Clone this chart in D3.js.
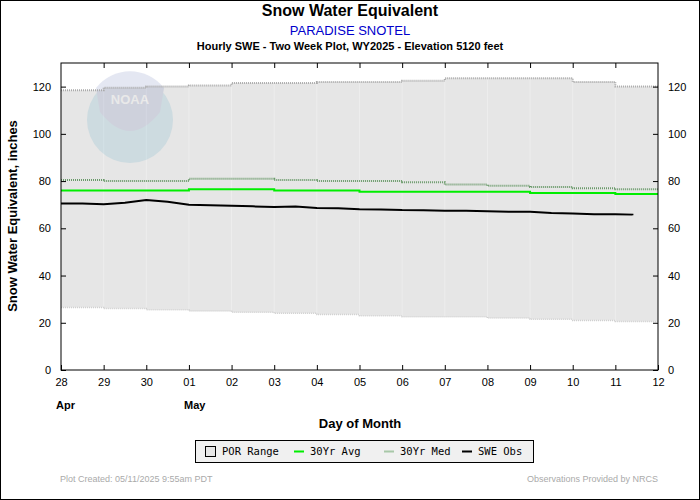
<!DOCTYPE html>
<html><head><meta charset="utf-8">
<script src="https://cdn.jsdelivr.net/npm/d3@7"></script>
<style>body{margin:0;background:#fff}svg{font-family:"Liberation Sans",Arial,sans-serif}</style>
</head><body>
<svg id="c" width="700" height="500"></svg>
<script>
const dayTicks = ["28","29","30","01","02","03","04","05","06","07","08","09","10","11","12"];
// daily step values, index = days since Apr 28
const porMax = [118.5,119.5,120,120.5,121.5,121.5,122,122,122.5,123.5,123.5,123.5,122,120];
const porMin = [26.5,26,25.5,25,24.5,24,23.5,23,22.5,22.5,22,21.5,21,20.5];
const med30 = [80.5,80,80,81,81,80.5,80,80,79.5,78.5,78,77.5,77,76.5];
const avg30 = [76,76,76,76.5,76.5,76,76,75.5,75.5,75.5,75.5,75,75,74.5];
// observations every 12 hours
const obs = [70.5,70.5,70.2,70.8,72.0,71.2,70.0,69.8,69.5,69.3,69.0,69.2,68.6,68.5,68.1,68.0,67.7,67.6,67.4,67.4,67.2,67.0,67.0,66.5,66.3,66.0,66.0,65.8,65.5];
const obsLastDay = 13.4;

const svg = d3.select("#c");
const m = {l:61, r:658, t:63, b:370};
const x = d3.scaleLinear().domain([0,14]).range([m.l,m.r]);
const y = d3.scaleLinear().domain([0,130]).range([m.b,m.t]);

svg.append("rect").attr("x",0.5).attr("y",0.5).attr("width",699).attr("height",499).attr("fill","#fff").attr("stroke","#000");

const stepPts = arr => arr.flatMap((v,i)=>[[i,v],[i+1,v]]);
const band = porMax.flatMap((v,i)=>[{d:i,hi:v,lo:porMin[i]},{d:i+1,hi:v,lo:porMin[i]}]);
svg.append("path").attr("d",d3.area().x(d=>x(d.d)).y0(d=>y(d.lo)).y1(d=>y(d.hi))(band)).attr("fill","#e6e6e6");

// grid
svg.append("g").selectAll("line").data(d3.range(1,14)).join("line")
  .attr("x1",d=>x(d)).attr("x2",d=>x(d)).attr("y1",m.t).attr("y2",m.b).attr("stroke","#fff").attr("stroke-opacity",0.3);

// faint logo
const lg = svg.append("g").attr("opacity",0.12);
lg.append("circle").attr("cx",130).attr("cy",120).attr("r",43).attr("fill","#1f8fb8");
lg.append("path").attr("d","M96,88 A43,43 0 0 1 164,88 L160,112 Q130,150 100,112 Z").attr("fill","#2a3f9a");
lg.append("text").attr("x",130).attr("y",104).attr("text-anchor","middle").attr("font-size",13).attr("font-weight","bold").attr("fill","#fff").text("NOAA");

const line = d3.line().x(d=>x(d[0])).y(d=>y(d[1]));
svg.append("path").attr("d",line(stepPts(porMax))).attr("fill","none").attr("stroke","#aaa").attr("stroke-width",2).attr("stroke-dasharray","1,1");
svg.append("path").attr("d",line(stepPts(porMin))).attr("fill","none").attr("stroke","#d0d0d0").attr("stroke-width",1.5).attr("stroke-dasharray","1,1");
svg.append("path").attr("d",line(stepPts(med30))).attr("fill","none").attr("stroke","#6a9a6a").attr("stroke-width",2).attr("stroke-dasharray","1,1");
svg.append("path").attr("d",line(stepPts(avg30))).attr("fill","none").attr("stroke","#00ee00").attr("stroke-width",2);
const obsPts = obs.map((v,i)=>[Math.min(i*0.5,obsLastDay),v]);
obsPts[obsPts.length-1][0]=obsLastDay;
svg.append("path").attr("d",line(obsPts)).attr("fill","none").attr("stroke","#000").attr("stroke-width",2);

svg.append("rect").attr("x",m.l).attr("y",m.t).attr("width",m.r-m.l).attr("height",m.b-m.t).attr("fill","none").attr("stroke","#000");

const yt = d3.range(0,121,20);
const styleAx = g=>{g.select(".domain").remove();g.selectAll("text").attr("font-size",11).attr("font-family","Liberation Sans");};
svg.append("g").attr("transform",`translate(${m.l},0)`).call(d3.axisLeft(y).tickValues(yt).tickSize(-5).tickPadding(10)).call(styleAx);
svg.append("g").attr("transform",`translate(${m.r},0)`).call(d3.axisRight(y).tickValues(yt).tickSize(-5).tickPadding(10)).call(styleAx);
svg.append("g").attr("transform",`translate(0,${m.b})`).call(d3.axisBottom(x).tickValues(d3.range(0,15)).tickFormat(i=>dayTicks[i]).tickSize(-5).tickPadding(8)).call(styleAx);
svg.append("g").attr("transform",`translate(0,${m.t})`).call(d3.axisTop(x).tickValues(d3.range(1,14)).tickFormat("").tickSize(-5)).call(styleAx);

svg.append("text").attr("x",56).attr("y",409).attr("font-size",11).attr("font-weight","bold").text("Apr");
svg.append("text").attr("x",184).attr("y",409).attr("font-size",11).attr("font-weight","bold").text("May");

svg.append("text").attr("x",350).attr("y",16).attr("text-anchor","middle").attr("font-size",16).attr("font-weight","bold").text("Snow Water Equivalent");
svg.append("text").attr("x",350).attr("y",35).attr("text-anchor","middle").attr("font-size",13).attr("fill","#0000cc").text("PARADISE SNOTEL");
svg.append("text").attr("x",350).attr("y",50).attr("text-anchor","middle").attr("font-size",11).attr("font-weight","bold").text("Hourly SWE - Two Week Plot, WY2025 -  Elevation 5120 feet");
svg.append("text").attr("transform","translate(17,216) rotate(-90)").attr("text-anchor","middle").attr("font-size",13).attr("font-weight","bold").text("Snow Water Equivalent, inches");
svg.append("text").attr("x",360).attr("y",428).attr("text-anchor","middle").attr("font-size",13).attr("font-weight","bold").text("Day of Month");

// legend
const lgd = svg.append("g").attr("font-family","DejaVu Sans Mono").attr("font-size",10.5);
lgd.append("rect").attr("x",195.5).attr("y",440.5).attr("width",338).attr("height",22).attr("fill","#f0f0f0").attr("stroke","#000");
lgd.append("rect").attr("x",205.5).attr("y",446.5).attr("width",10).attr("height",10).attr("fill","#e6e6e6").attr("stroke","#000");
lgd.append("text").attr("x",222).attr("y",455).text("POR Range");
[["#00ee00",294,"30Yr Avg"],["#a8c8a8",384,"30Yr Med"],["#000",462,"SWE Obs"]].forEach(([c,lx,t])=>{
  lgd.append("line").attr("x1",lx).attr("x2",lx+10).attr("y1",451.5).attr("y2",451.5).attr("stroke",c).attr("stroke-width",2);
  lgd.append("text").attr("x",lx+16).attr("y",455).text(t);
});
svg.append("text").attr("x",60).attr("y",482).attr("font-size",9).attr("fill","#aaa").text("Plot Created: 05/11/2025 9:55am PDT");
svg.append("text").attr("x",658).attr("y",482).attr("text-anchor","end").attr("font-size",9).attr("fill","#aaa").text("Observations Provided by NRCS");
</script>
</body></html>
